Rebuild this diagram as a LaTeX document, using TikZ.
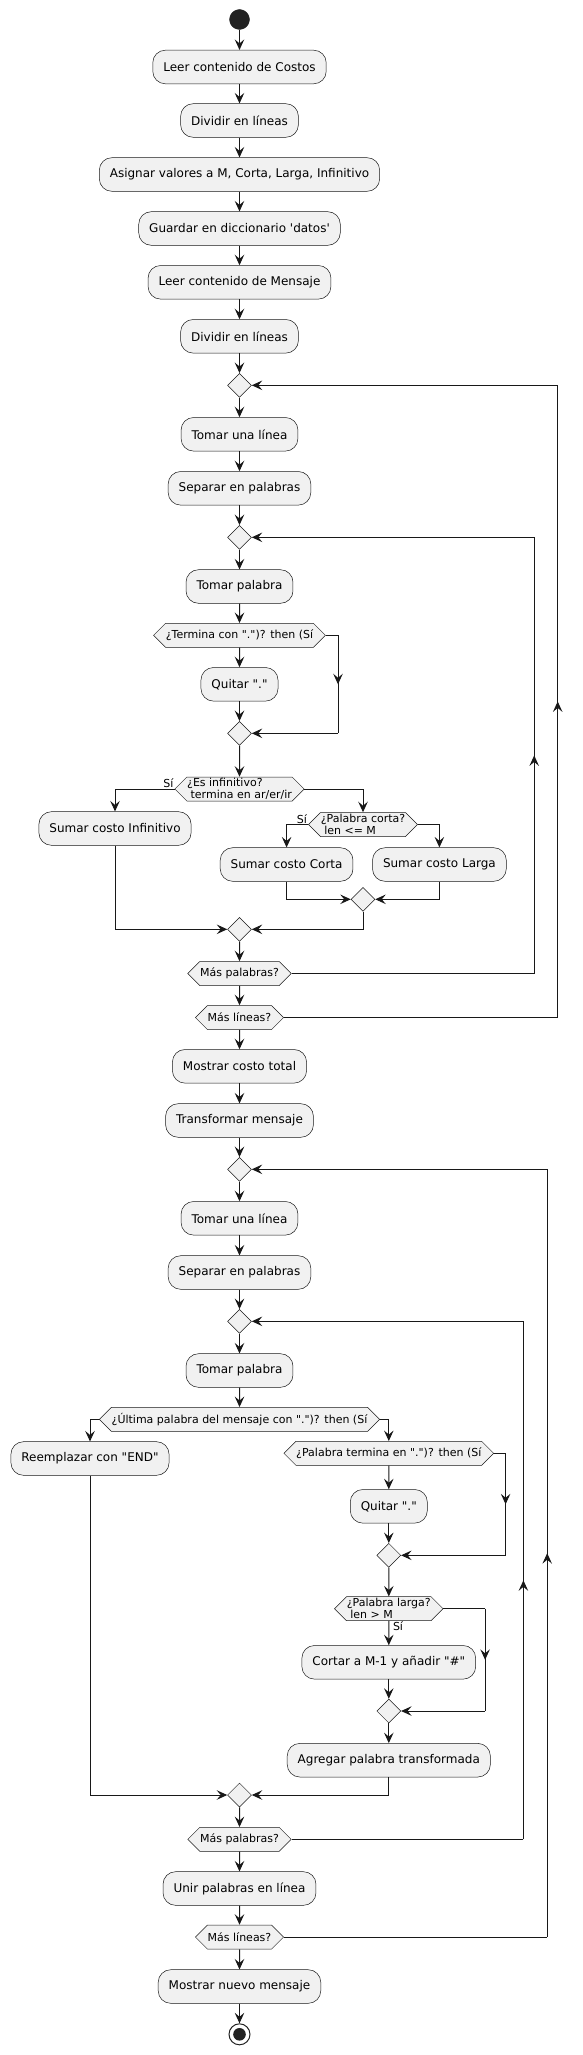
\documentclass[tikz,border=0pt]{standalone}
\usepackage{fontspec}
\newfontfamily\pufont{DejaVu Sans}
\usetikzlibrary{arrows.meta,shapes.geometric,shapes.symbols,decorations.markings}
\definecolor{pumlline}{HTML}{181818}
\definecolor{pumlfill}{HTML}{F1F1F1}
\definecolor{pumldot}{HTML}{222222}

\begin{document}
\begin{tikzpicture}[x=1pt, y=-1pt,
    act/.style={draw=pumlline, fill=pumlfill, line width=0.5pt, rounded corners=12.5pt, minimum height=33.6pt, inner xsep=10.5pt, inner ysep=0pt, font=\pufont\fontsize{12}{14}\selectfont},
    hex/.style={draw=pumlline, fill=pumlfill, line width=0.5pt, signal, signal to=west and east, signal pointer angle=90, minimum height=24pt, inner xsep=0.3pt, inner ysep=0.6pt, align=left, font=\pufont\fontsize{11}{12}\selectfont},
    merge/.style={draw=pumlline, fill=pumlfill, line width=0.5pt, diamond, minimum width=24pt, minimum height=24pt, inner sep=0pt},
    lab/.style={inner sep=1pt, font=\pufont\fontsize{11}{12}\selectfont},
    wire/.style={draw, color=pumlline, line width=1pt},
    flow/.style={wire, -{Stealth[length=10.5pt,width=9.5pt,inset=4pt]}},
    midtip/.style={postaction={decorate, decoration={markings, mark=at position 0.5 with {\arrow{Stealth[length=10.5pt,width=9.5pt,inset=4pt]}}}}}]
    \useasboundingbox (0,0) rectangle (582,2055);

    % costos
    \node[circle, draw=pumldot, fill=pumldot, minimum size=20pt, inner sep=0pt] (st) at (239.5,19.5) {};
    \node[act] (a1) at (239.5,67) {Leer contenido de Costos};
    \node[act] (a2) at (239.5,120.5) {Dividir en líneas};
    \node[act] (a3) at (239.5,174.5) {Asignar valores a M, Corta, Larga, Infinitivo};
    \node[act] (a4) at (239.5,228.5) {Guardar en diccionario 'datos'};
    \node[act] (a5) at (239.5,282.3) {Leer contenido de Mensaje};
    \node[act] (a6) at (239.5,336.3) {Dividir en líneas};
    \node[merge] (d1) at (239.5,385.3) {};
    \node[act] (b1) at (239.5,434.3) {Tomar una línea};
    \node[act] (b2) at (239.5,488.3) {Separar en palabras};
    \node[merge] (d2) at (239.5,537.3) {};
    \node[act] (b3) at (239.5,586.5) {Tomar palabra};
    \node[hex] (h1) at (239.5,635.3) {¿Termina con ".")? then (Sí};
    \node[act] (b4) at (239.5,684.3) {Quitar "."};
    \node[merge] (d3) at (239.5,733.3) {};
    \node[hex] (h2) at (239.5,789) {¿Es infinitivo?\\\hspace*{3.5pt}termina en ar/er/ir};
    \node[act] (b5) at (115,828.5) {Sumar costo Infinitivo};
    \node[hex] (h3) at (363,824.5) {¿Palabra corta?\\\hspace*{3.5pt}len <= M};
    \node[act] (b6) at (286.6,864.5) {Sumar costo Corta};
    \node[act] (b7) at (439.4,864.5) {Sumar costo Larga};
    \node[merge] (d4) at (363,899.3) {};
    \node[merge] (d5) at (239.5,929.3) {};
    \node[hex] (h4) at (239.5,973.5) {Más palabras?};
    \node[hex] (h5) at (239.5,1017.5) {Más líneas?};
    \node[act] (c1) at (239.5,1066.3) {Mostrar costo total};

    % mensaje
    \node[act] (c2) at (239.5,1120.5) {Transformar mensaje};
    \node[merge] (d6) at (239.5,1169.3) {};
    \node[act] (c3) at (239.5,1218.3) {Tomar una línea};
    \node[act] (c4) at (239.5,1272.5) {Separar en palabras};
    \node[merge] (d7) at (239.5,1321.3) {};
    \node[act] (c5) at (239.5,1370.5) {Tomar palabra};
    \node[hex] (h6) at (239.5,1419.3) {¿Última palabra del mensaje con ".")? then (Sí};
    \node[act] (c6) at (90,1458.5) {Reemplazar con "END"};
    \node[hex] (h7) at (388.8,1453.3) {¿Palabra termina en ".")? then (Sí};
    \node[act] (c7) at (388.8,1506.3) {Quitar "."};
    \node[merge] (d8) at (388.8,1555.3) {};
    \node[hex] (h8) at (388.8,1608.7) {¿Palabra larga?\\\hspace*{3.5pt}len > M};
    \node[act] (c8) at (388.8,1662.3) {Cortar a M-1 y añadir "\#"};
    \node[merge] (d9) at (388.8,1711) {};
    \node[act] (c9) at (388.8,1760.2) {Agregar palabra transformada};
    \node[merge] (d10) at (239.5,1795) {};
    \node[hex] (h9) at (239.5,1839.3) {Más palabras?};
    \node[act] (c10) at (239.5,1888.5) {Unir palabras en línea};
    \node[hex] (h10) at (239.5,1937) {Más líneas?};
    \node[act] (c11) at (239.5,1986.5) {Mostrar nuevo mensaje};
    \node[circle, draw=pumldot, line width=1pt, fill=white, minimum size=21pt, inner sep=0pt,
        path picture={\fill[pumldot] (path picture bounding box.center) circle (6.3pt);}] (en) at (239.5,2034.3) {};

    \node[lab, anchor=south east] (s1) at (h2.west) {Sí};
    \node[lab, anchor=south east] (s2) at (h3.west) {Sí};
    \node[lab, anchor=north west] (s3) at ([xshift=3pt]h8.south) {Sí};

    \coordinate (t1a) at (338,635.3);
    \coordinate (t1b) at (338,733.3);
    \coordinate (r2a) at (534.2,973.5);
    \coordinate (r2b) at (534.2,537.3);
    \coordinate (r1a) at (557.7,1017.5);
    \coordinate (r1b) at (557.7,385.3);
    \coordinate (t2a) at (505.6,1453.3);
    \coordinate (t2b) at (505.6,1555.3);
    \coordinate (t3a) at (485.1,1608.7);
    \coordinate (t3b) at (485.1,1711);
    \coordinate (r3a) at (523.4,1839.3);
    \coordinate (r3b) at (523.4,1321.3);
    \coordinate (r4a) at (547.2,1937);
    \coordinate (r4b) at (547.2,1169.3);

    \draw[flow] (st) -- (a1);
    \draw[flow] (a1) -- (a2);
    \draw[flow] (a2) -- (a3);
    \draw[flow] (a3) -- (a4);
    \draw[flow] (a4) -- (a5);
    \draw[flow] (a5) -- (a6);
    \draw[flow] (a6) -- (d1);
    \draw[flow] (d1) -- (b1);
    \draw[flow] (b1) -- (b2);
    \draw[flow] (b2) -- (d2);
    \draw[flow] (d2) -- (b3);
    \draw[flow] (b3) -- (h1);
    \draw[flow] (h1) -- (b4);
    \draw[flow] (b4) -- (d3);
    \draw[wire] (h1.east) -- (t1a);
    \draw[wire, midtip] (t1a) -- (t1b);
    \draw[flow] (t1b) -- (d3.east);
    \draw[flow] (d3) -- (h2);
    \draw[flow] (h2.west) -| (b5.north);
    \draw[flow] (h2.east) -| (h3.north);
    \draw[flow] (h3.west) -| (b6.north);
    \draw[flow] (h3.east) -| (b7.north);
    \draw[flow] (b6.south) |- (d4.west);
    \draw[flow] (b7.south) |- (d4.east);
    \draw[flow] (b5.south) |- (d5.west);
    \draw[flow] (d4.south) |- (d5.east);
    \draw[flow] (d5) -- (h4);
    \draw[wire] (h4.east) -- (r2a);
    \draw[wire, midtip] (r2a) -- (r2b);
    \draw[flow] (r2b) -- (d2.east);
    \draw[flow] (h4) -- (h5);
    \draw[wire] (h5.east) -- (r1a);
    \draw[wire, midtip] (r1a) -- (r1b);
    \draw[flow] (r1b) -- (d1.east);
    \draw[flow] (h5) -- (c1);
    \draw[flow] (c1) -- (c2);
    \draw[flow] (c2) -- (d6);
    \draw[flow] (d6) -- (c3);
    \draw[flow] (c3) -- (c4);
    \draw[flow] (c4) -- (d7);
    \draw[flow] (d7) -- (c5);
    \draw[flow] (c5) -- (h6);
    \draw[flow] (h6.west) -| (c6.north);
    \draw[flow] (h6.east) -| (h7.north);
    \draw[flow] (h7) -- (c7);
    \draw[flow] (c7) -- (d8);
    \draw[wire] (h7.east) -- (t2a);
    \draw[wire, midtip] (t2a) -- (t2b);
    \draw[flow] (t2b) -- (d8.east);
    \draw[flow] (d8) -- (h8);
    \draw[flow] (h8) -- (c8);
    \draw[wire] (h8.east) -- (t3a);
    \draw[wire, midtip] (t3a) -- (t3b);
    \draw[flow] (t3b) -- (d9.east);
    \draw[flow] (c8) -- (d9);
    \draw[flow] (d9) -- (c9);
    \draw[flow] (c6.south) |- (d10.west);
    \draw[flow] (c9.south) |- (d10.east);
    \draw[flow] (d10) -- (h9);
    \draw[wire] (h9.east) -- (r3a);
    \draw[wire, midtip] (r3a) -- (r3b);
    \draw[flow] (r3b) -- (d7.east);
    \draw[flow] (h9) -- (c10);
    \draw[flow] (c10) -- (h10);
    \draw[wire] (h10.east) -- (r4a);
    \draw[wire, midtip] (r4a) -- (r4b);
    \draw[flow] (r4b) -- (d6.east);
    \draw[flow] (h10) -- (c11);
    \draw[flow] (c11) -- (en);
\end{tikzpicture}
\end{document}
